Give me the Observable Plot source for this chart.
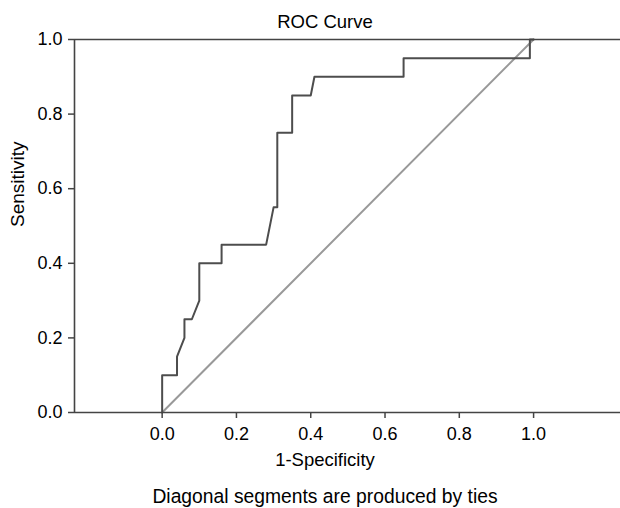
<!DOCTYPE html>
<html><head><meta charset="utf-8">
<script src="https://cdn.jsdelivr.net/npm/d3@7"></script>
<script src="https://cdn.jsdelivr.net/npm/@observablehq/plot@0.6"></script>
<style>
body{margin:0;background:#fff} svg{display:block}
g[aria-label="x-axis tick label"], g[aria-label="y-axis tick label"] { font-size: 18px; }
</style>
</head><body><div id="chart"></div>
<script>
// ROC curve points (1-Specificity, Sensitivity)
const fpr = [0, 0, 0.04, 0.04, 0.06, 0.06, 0.08, 0.10, 0.10, 0.16, 0.16, 0.28, 0.30, 0.31, 0.31, 0.35, 0.35, 0.40, 0.41, 0.65, 0.65, 0.99, 0.99, 1.0];
const tpr = [0, 0.10, 0.10, 0.15, 0.20, 0.25, 0.25, 0.30, 0.40, 0.40, 0.45, 0.45, 0.55, 0.55, 0.75, 0.75, 0.85, 0.85, 0.90, 0.90, 0.95, 0.95, 1.0, 1.0];
const refX = [0, 1];
const refY = [0, 1];
const xTicks = [0, 0.2, 0.4, 0.6, 0.8, 1.0];
const yTicks = [0, 0.2, 0.4, 0.6, 0.8, 1.0];
const title = "ROC Curve";
const xLabel = "1-Specificity";
const yLabel = "Sensitivity";
const caption = "Diagonal segments are produced by ties";

const curve = fpr.map((x, i) => ({x, y: tpr[i]}));
const diag = refX.map((x, i) => ({x, y: refY[i]}));
const font = "'Liberation Sans', Arial, Helvetica, sans-serif";
const fmt = d3.format(".1f");
const xMin = -0.236, xMax = 1.234;

const chart = Plot.plot({
  width: 620, height: 508,
  marginLeft: 74, marginRight: 0, marginTop: 39, marginBottom: 96,
  style: {fontFamily: font, fontSize: "18px", color: "#000", background: "#fff"},
  x: {domain: [xMin, xMax]},
  y: {domain: [0, 1]},
  marks: [
    Plot.line(diag, {x: "x", y: "y", stroke: "#999", strokeWidth: 2}),
    Plot.line(curve, {x: "x", y: "y", stroke: "#4d4d4d", strokeWidth: 2}),
    Plot.ruleY([0], {stroke: "#444", strokeWidth: 1.6}),
    Plot.ruleY([1], {stroke: "#444", strokeWidth: 1.6}),
    Plot.ruleX([xMin], {stroke: "#444", strokeWidth: 1.6}),
    Plot.axisX({ticks: xTicks, tickFormat: fmt, tickSize: 6, tickPadding: 9, label: null, fontSize: 18, stroke: "#444", strokeWidth: 1.5}),
    Plot.axisY({ticks: yTicks, tickFormat: fmt, tickSize: 6, tickPadding: 6, label: null, fontSize: 18, stroke: "#444", strokeWidth: 1.5}),
    Plot.text([title], {text: d => d, frameAnchor: "top", dx: -22.5, dy: -17, lineAnchor: "middle", fontSize: 18.5}),
    Plot.text([xLabel], {text: d => d, frameAnchor: "bottom", dx: -22.5, dy: 48, lineAnchor: "middle", fontSize: 18.5}),
    Plot.text([caption], {text: d => d, frameAnchor: "bottom", dx: -22.5, dy: 84.5, lineAnchor: "middle", fontSize: 19.3}),
    Plot.text([yLabel], {text: d => d, frameAnchor: "left", dx: -57, dy: 1, rotate: -90, lineAnchor: "middle", fontSize: 19})
  ]
});
document.getElementById("chart").appendChild(chart);
</script>
</body></html>
